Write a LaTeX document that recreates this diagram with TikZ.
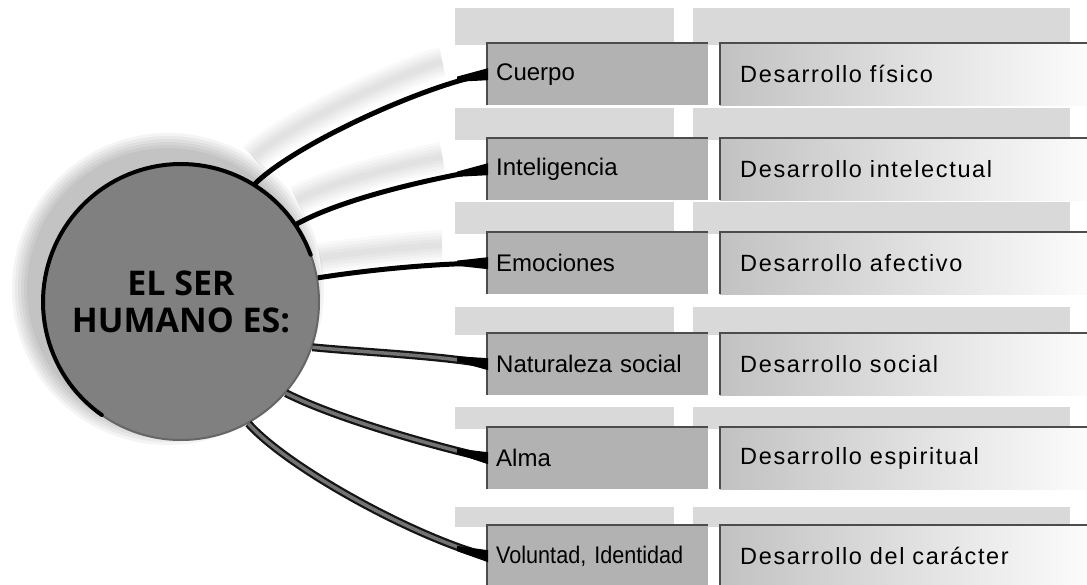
\documentclass[tikz,border=0pt]{standalone}
\usepackage{fontspec}
\setmainfont{Liberation Sans}
\newfontfamily\headfont{Open Sans}
\newfontfamily\descfont[LetterSpace=7]{Liberation Sans}
\usetikzlibrary{calc}
\pgfdeclarelayer{background}
\pgfsetlayers{background,main}

% dark tapered end of a connector where it meets its box
\newcommand\linktip[2]{%
  \fill[black] ($(#1.west)+(1,-6)$) -- ($(#1.west)+(1,6)$)
    -- ($(#1.west)+(-30,#2+2.6)$) -- ($(#1.west)+(-30,#2-2.6)$) -- cycle;}

\begin{document}
\begin{tikzpicture}[x=1pt,y=-1pt,
  hub/.style={circle, minimum size=276pt, inner sep=0pt, fill=black!50,
    draw=black!60, line width=2pt, align=center,
    font=\headfont\bfseries\fontsize{34}{37}\selectfont},
  lbox/.style={anchor=north west, minimum height=62pt, text width=203pt,
    inner xsep=9pt, inner ysep=0pt, align=left, fill=black!30,
    font=\fontsize{24}{28}\selectfont},
  rbox/.style={anchor=north west, minimum height=62pt, text width=350pt,
    inner xsep=20pt, inner ysep=0pt, align=left, left color=black!24,
    right color=white, font=\descfont\fontsize{23.5}{27}\selectfont},
  edgeline/.style={draw=black!70, line width=1.6pt},
  backshade/.style={fill=black!15},
  link/.style={line width=5pt, draw=black},
  tubeout/.style={line width=8pt, draw=black!92},
  tubein/.style={line width=3.5pt, draw=black!55},
  glow/.style={draw=black, opacity=0.025, shorten >=35pt, shorten <=12pt},
]
\useasboundingbox (0,0) rectangle (1087,585);
\clip (0,0) rectangle (1087,585);

% central circle
\node[hub] (hub) at (181,302) {EL SER\\HUMANO ES:};
\begin{scope}[shift={(hub.center)}]
  \draw[black, line width=4pt, line cap=round]
    plot[domain=20:235, samples=80] ({138*cos(\x)}, {-138*sin(\x)});
\end{scope}

% left column
\node[lbox] (l1) at (487,43)  {Cuerpo};
\node[lbox] (l2) at (487,138) {Inteligencia};
\node[lbox] (l3) at (487,232) {Emociones};
\node[lbox] (l4) at (487,333) {Naturaleza social};
\node[lbox] (l5) at (487,427) {Alma};
\node[lbox] (l6) at (487,525) {\addfontfeatures{FakeStretch=0.9}Voluntad, Identidad};

% right column
\node[rbox] (r1) at (720,43)  {Desarrollo físico};
\node[rbox] (r2) at (720,138) {Desarrollo intelectual};
\node[rbox] (r3) at (720,232) {Desarrollo afectivo};
\node[rbox] (r4) at (720,333) {Desarrollo social};
\node[rbox] (r5) at (720,427) {Desarrollo espiritual};
\node[rbox] (r6) at (720,525) {Desarrollo del carácter};

% top and left edges of every box
\foreach \i in {1,...,6}{
  \draw[edgeline] (l\i.south west) -- (l\i.north west) -- (l\i.north east);
  \draw[edgeline] (r\i.south west) -- (r\i.north west) -- (r\i.north east);
}

\begin{pgfonlayer}{background}
  % soft halo around the upper left of the circle
  \foreach \k in {1,...,6}{
    \fill[black, opacity=0.045] ($(hub.center)+(-13,-13)$) circle[radius={138pt+3pt*\k}];
  }
  % raised panels behind the boxes
  \foreach \i/\o in {1/35,2/30,3/30,4/26,5/20,6/18}{
    \fill[backshade] ($(l\i.north west)+(-32,-\o)$) rectangle ($(l\i.north east)+(-34,2)$);
    \fill[backshade] ($(r\i.north west)+(-27,-\o)$) rectangle ($(r\i.north east)+(-40,2)$);
  }
  % blurred shadows of the upper connectors
  \foreach \w in {30,24,18,12,6}{
    \draw[glow, line width=\w pt] ($(hub.58)+(-10,-18)$) .. controls +(40,-40) and +(-60,10) .. ($(l1.west)+(-10,-18)$);
    \draw[glow, line width=\w pt] ($(hub.34)+(-10,-18)$) .. controls +(45,-25) and +(-60,10) .. ($(l2.west)+(-10,-18)$);
    \draw[glow, line width=\w pt] ($(hub.10)+(-10,-18)$) .. controls +(50,-8) and +(-50,0) .. ($(l3.west)+(-10,-18)$);
  }
\end{pgfonlayer}

% connectors
\draw[link] (hub.58) .. controls +(40,-40) and +(-60,10) .. (l1.west);
\draw[link] (hub.34) .. controls +(45,-25) and +(-60,10) .. (l2.west);
\draw[link] (hub.10) .. controls +(50,-8) and +(-50,0) .. (l3.west);
\draw[tubeout] (hub.-19) .. controls +(50,5) and +(-50,-9) .. (l4.west);
\draw[tubein]  (hub.-19) .. controls +(50,5) and +(-50,-9) .. (l4.west);
\draw[tubeout] (hub.-41) .. controls +(50,25) and +(-60,-14) .. (l5.west);
\draw[tubein]  (hub.-41) .. controls +(50,25) and +(-60,-14) .. (l5.west);
\draw[tubeout] (hub.-61) .. controls +(40,45) and +(-70,-18) .. (l6.west);
\draw[tubein]  (hub.-61) .. controls +(40,45) and +(-70,-18) .. (l6.west);

\linktip{l1}{5}
\linktip{l2}{5}
\linktip{l3}{0}
\linktip{l4}{-5.4}
\linktip{l5}{-7}
\linktip{l6}{-7.7}
\end{tikzpicture}
\end{document}
